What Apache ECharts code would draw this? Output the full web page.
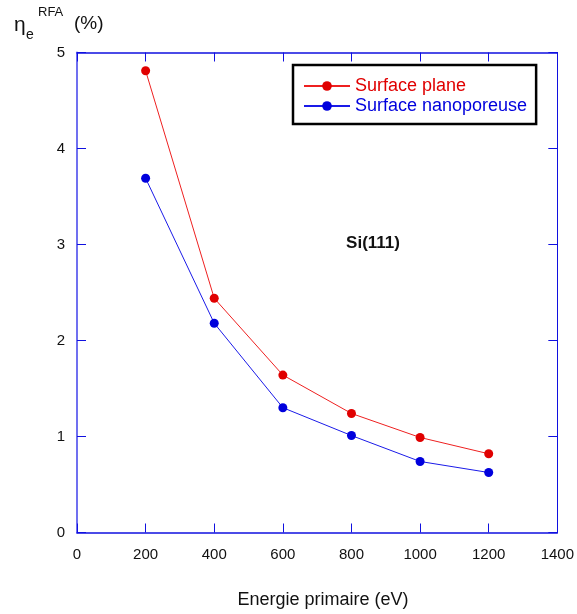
<!DOCTYPE html>
<html>
<head>
<meta charset="utf-8">
<script src="https://cdn.jsdelivr.net/npm/echarts@6/dist/echarts.min.js"></script>
<style>html,body{margin:0;padding:0;background:#fff}#c{width:577px;height:614px}</style>
</head>
<body>
<div id="c"></div>
<script>
const energies = [200, 400, 600, 800, 1000, 1200];
const surfacePlane = [4.81, 2.44, 1.64, 1.24, 0.99, 0.82];
const surfaceNano = [3.69, 2.18, 1.30, 1.01, 0.74, 0.625];
const seriesNames = ['Surface plane', 'Surface nanoporeuse'];
const xTicks = [0, 200, 400, 600, 800, 1000, 1200, 1400];
const yTicks = [0, 1, 2, 3, 4, 5];

const FONT = 'Liberation Sans, Arial, sans-serif';
const axisBlue = '#1010e0';
const chart = echarts.init(document.getElementById('c'), null, {renderer: 'canvas'});

const grid = {left: 77, right: 19, top: 52.5, bottom: 81.5};
const xBase = {type: 'value', min: xTicks[0], max: xTicks[xTicks.length - 1], interval: 200,
  splitLine: {show: false}};
const yBase = {type: 'value', min: yTicks[0], max: yTicks[yTicks.length - 1], interval: 1,
  splitLine: {show: false}};
const plain = v => String(v);

chart.setOption({
  animation: false,
  grid: grid,
  xAxis: [
    Object.assign({}, xBase, {position: 'bottom',
      axisLine: {onZero: false, lineStyle: {color: axisBlue, width: 1.5}},
      axisTick: {inside: true, length: 9, lineStyle: {color: axisBlue, width: 1}},
      axisLabel: {color: '#111', fontFamily: FONT, fontSize: 15, margin: 15, formatter: plain}}),
    Object.assign({}, xBase, {position: 'top',
      axisLine: {onZero: false, lineStyle: {color: axisBlue, width: 1.5}},
      axisTick: {inside: true, length: 9, lineStyle: {color: axisBlue, width: 1}},
      axisLabel: {show: false}})
  ],
  yAxis: [
    Object.assign({}, yBase, {position: 'left',
      axisLine: {onZero: false, lineStyle: {color: '#7070f0', width: 2}},
      axisTick: {inside: true, length: 9, lineStyle: {color: axisBlue, width: 1}},
      axisLabel: {color: '#111', fontFamily: FONT, fontSize: 15, margin: 12, formatter: plain}}),
    Object.assign({}, yBase, {position: 'right',
      axisLine: {onZero: false, lineStyle: {color: axisBlue, width: 1}},
      axisTick: {inside: true, length: 9, lineStyle: {color: axisBlue, width: 1}},
      axisLabel: {show: false}})
  ],
  legend: {
    left: 293, top: 65, orient: 'vertical',
    borderColor: '#000', borderWidth: 2.5,
    padding: [12, 9, 9, 10],
    itemWidth: 46, itemHeight: 12, itemGap: 2,
    textStyle: {fontFamily: FONT, fontSize: 18, lineHeight: 18, padding: [0, 0, 0, 0]},
    data: [
      {name: seriesNames[0], textStyle: {color: '#e00000'}},
      {name: seriesNames[1], textStyle: {color: '#0000dd'}}
    ]
  },
  series: [
    {name: seriesNames[0], type: 'line', xAxisIndex: 0, yAxisIndex: 0,
      data: energies.map((e, i) => [e, surfacePlane[i]]),
      symbol: 'circle', symbolSize: 9,
      lineStyle: {color: '#ee2020', width: 1},
      itemStyle: {color: '#e00000'}},
    {name: seriesNames[1], type: 'line', xAxisIndex: 0, yAxisIndex: 0,
      data: energies.map((e, i) => [e, surfaceNano[i]]),
      symbol: 'circle', symbolSize: 9,
      lineStyle: {color: '#1a1ae8', width: 1},
      itemStyle: {color: '#0000dd'}}
  ],
  graphic: [
    {type: 'text', left: 14, top: 15, style: {text: 'η', font: '21px ' + FONT, fill: '#111'}},
    {type: 'text', left: 26, top: 28, style: {text: 'e', font: '14px ' + FONT, fill: '#111'}},
    {type: 'text', left: 38, top: 6, style: {text: 'RFA', font: '13px ' + FONT, fill: '#111'}},
    {type: 'text', left: 74, top: 14, style: {text: '(%)', font: '19px ' + FONT, fill: '#111'}},
    {type: 'text', x: 373, y: 243, style: {text: 'Si(111)', font: 'bold 17px ' + FONT, fill: '#111',
      textAlign: 'center', textVerticalAlign: 'middle'}},
    {type: 'text', x: 323, y: 600, style: {text: 'Energie primaire (eV)', font: '18px ' + FONT, fill: '#111',
      textAlign: 'center', textVerticalAlign: 'middle'}}
  ]
});
</script>
</body>
</html>
